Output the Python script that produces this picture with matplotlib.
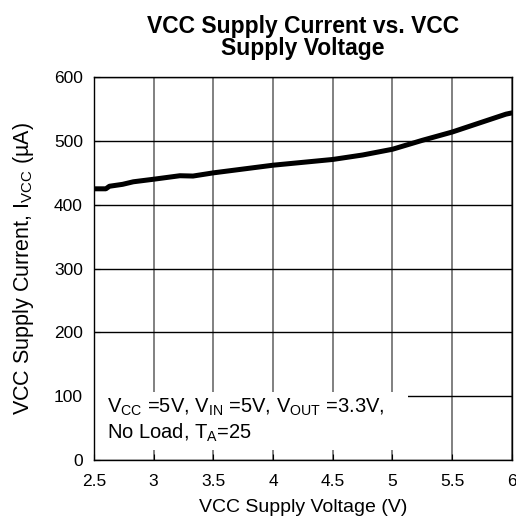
import numpy as np
import matplotlib
matplotlib.use('Agg')
import matplotlib.pyplot as plt
from matplotlib.patches import Rectangle

plt.rcParams['font.family'] = 'Liberation Sans'
plt.rcParams['mathtext.fontset'] = 'custom'
plt.rcParams['mathtext.rm'] = 'Liberation Sans'
plt.rcParams['mathtext.it'] = 'Liberation Sans'

# curve
vcc = [2.5, 2.6, 2.63, 2.74, 2.83, 3.0, 3.22, 3.33, 3.5, 4.0, 4.5, 4.75, 5.0, 5.25, 5.5, 5.95, 6.0]
icc = [425, 425, 429, 432, 436, 440, 445.5, 445, 450, 462, 471, 478, 487, 501, 514, 542, 544]

xticks = [2.5, 3, 3.5, 4, 4.5, 5, 5.5, 6]
xticklabels = ['2.5', '3', '3.5', '4', '4.5', '5', '5.5', '6']
yticks = [0, 100, 200, 300, 400, 500, 600]

fig = plt.figure(figsize=(5.16, 5.25), dpi=100)
ax = fig.add_axes([0.182, 0.124, 0.81, 0.729])

ax.set_xlim(2.5, 6)
ax.set_ylim(0, 600)
ax.set_xticks(xticks)
ax.set_xticklabels(xticklabels)
ax.set_yticks(yticks)
ax.tick_params(direction='in', length=4, labelsize=12.5, color='black')
ax.tick_params(axis='x', pad=10)
ax.tick_params(axis='y', pad=8)
ax.xaxis.grid(True, color='#808080', linewidth=1.4)
ax.yaxis.grid(True, color='black', linewidth=1.0)
ax.set_axisbelow(True)
for s in ax.spines.values():
    s.set_linewidth(1.0)

ax.plot(vcc, icc, color='black', linewidth=3.6, solid_capstyle='round', zorder=3)

# condition box
ax.add_patch(Rectangle((2.51, 16), 2.62, 91, facecolor='white', edgecolor='none', zorder=2))
ax.text(2.61, 99,
        'V$_{\\mathrm{CC}}$ =5V, V$_{\\mathrm{IN}}$ =5V, V$_{\\mathrm{OUT}}$ =3.3V,\nNo Load, T$_{\\mathrm{A}}$=25',
        fontsize=14.5, va='top', ha='left', linespacing=1.2, zorder=4)

ax.set_xlabel('VCC Supply Voltage (V)', fontsize=14, labelpad=7)
ax.set_ylabel('VCC Supply Current, I$_{\\mathrm{VCC}}$ (\u00b5A)', fontsize=15.5, labelpad=13)
ax.set_title('VCC Supply Current vs. VCC\nSupply Voltage', fontsize=16.5, fontweight='bold', pad=16, linespacing=0.95)

fig.savefig('out.png', dpi=100)
